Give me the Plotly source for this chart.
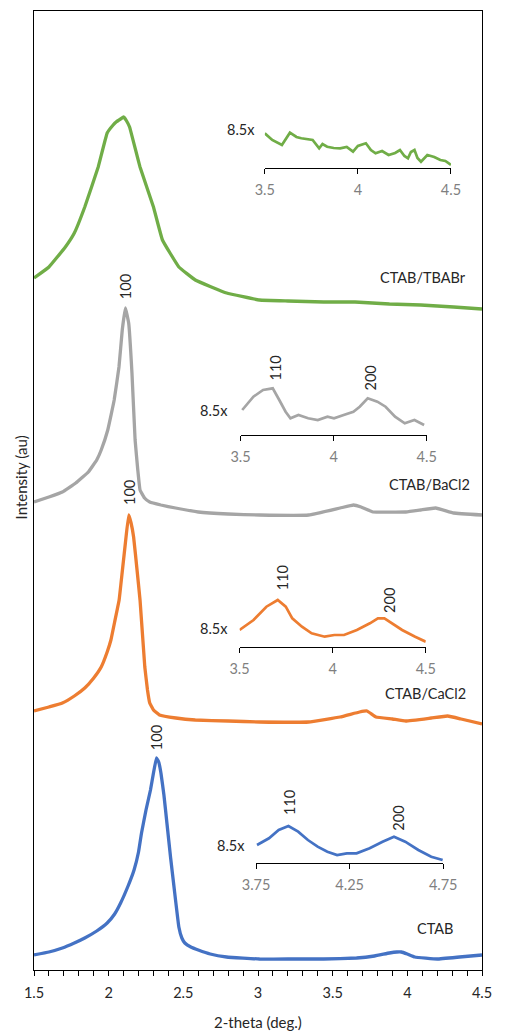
import plotly.graph_objects as go

# ---------------- main patterns (2-theta, stacked intensity in a.u.) -------------
ctab_x = [1.5, 1.6, 1.69, 1.77, 1.84, 1.92, 1.99, 2.04, 2.08, 2.13, 2.17, 2.20, 2.22, 2.25, 2.28,
          2.30, 2.32, 2.335, 2.35, 2.37, 2.39, 2.415, 2.44, 2.47, 2.49, 2.51, 2.55, 2.6, 2.68, 2.79,
          3.01, 3.2, 3.44, 3.66, 3.78, 3.88, 3.93, 3.96, 4.0, 4.05, 4.2, 4.35, 4.5]
ctab_y = [15, 18, 22, 27, 32, 39, 47, 56, 67, 84, 100, 118, 137, 160, 180,
          197, 212, 208, 197, 175, 147, 112, 80, 43, 32, 27, 23, 20, 16, 13,
          11, 11, 11, 12, 14, 17, 18, 18, 16, 13, 11, 13, 15]

cacl_x = [1.5, 1.6, 1.69, 1.77, 1.84, 1.9, 1.95, 1.99, 2.015, 2.04, 2.07, 2.09, 2.112, 2.134, 2.15,
          2.167, 2.19, 2.21, 2.242, 2.26, 2.275, 2.3, 2.34, 2.45, 2.58, 2.8, 3.01, 3.34, 3.55, 3.68,
          3.73, 3.79, 3.9, 3.99, 4.16, 4.27, 4.36, 4.5]
cacl_y = [259, 263, 267, 274, 282, 292, 303, 318, 330, 348, 370, 397, 427, 455, 447,
          433, 400, 370, 303, 280, 267, 260, 255, 252, 250, 249, 248, 248, 253, 258,
          259, 253, 251, 249, 252, 254, 251, 246]

bacl_x = [1.5, 1.6, 1.69, 1.78, 1.864, 1.92, 1.95, 1.994, 2.037, 2.069, 2.091, 2.112, 2.134, 2.156,
          2.177, 2.195, 2.21, 2.24, 2.275, 2.35, 2.448, 2.6, 2.8, 3.01, 3.34, 3.55, 3.64, 3.69, 3.77,
          3.99, 4.09, 4.19, 4.31, 4.5]
bacl_y = [468, 473, 478, 487, 498, 510, 520, 540, 570, 603, 640, 662, 647, 597,
          530, 500, 480, 472, 468, 465, 462, 458, 456, 455, 455, 462, 465, 463, 458,
          458, 460, 462, 457, 455]

tbab_x = [1.5, 1.6, 1.71, 1.77, 1.84, 1.93, 1.99, 2.03, 2.05, 2.08, 2.10, 2.12, 2.14, 2.21, 2.30,
          2.36, 2.47, 2.58, 2.79, 3.01, 3.2, 3.44, 3.65, 3.88, 4.09, 4.31, 4.5]
tbab_y = [692, 703, 723, 737, 763, 803, 837, 845, 848, 851, 853, 849, 843, 803, 763,
          730, 703, 690, 677, 670, 669, 668, 668, 666, 665, 663, 661]

# ---------------- insets (8.5x magnified, a.u. above inset baseline) ----------------
ins_tbab_x = [3.5, 3.54, 3.592, 3.635, 3.67, 3.696, 3.757, 3.792, 3.81, 3.835, 3.87, 3.905, 3.94,
              3.974, 4.0, 4.043, 4.07, 4.095, 4.13, 4.165, 4.2, 4.226, 4.25, 4.269, 4.285, 4.304,
              4.32, 4.339, 4.373, 4.41, 4.443, 4.47, 4.5]
ins_tbab_y = [34.7, 28, 23, 35.3, 31, 29.7, 28, 19.7, 24, 21.3, 20, 19.7, 21, 16.3, 22, 24.7,
              18, 14.7, 17, 13, 15, 18, 12, 9.7, 16, 18, 10, 6.3, 13, 11, 8, 7, 3]

ins_bacl_x = [3.509, 3.569, 3.621, 3.673, 3.708, 3.742, 3.768, 3.811, 3.863, 3.915, 3.967, 4.002,
              4.054, 4.106, 4.14, 4.183, 4.235, 4.279, 4.33, 4.382, 4.434, 4.486]
ins_bacl_y = [25, 38.3, 45, 46.7, 35, 23.3, 16.7, 20, 16.7, 15, 18.3, 16.7,
              20, 23.3, 28.3, 36.7, 33.3, 28.3, 18.3, 11.7, 15, 10]

ins_cacl_x = [3.5, 3.575, 3.644, 3.705, 3.748, 3.783, 3.835, 3.887, 3.957, 4.009, 4.061, 4.13,
              4.2, 4.243, 4.278, 4.321, 4.373, 4.443, 4.5]
ins_cacl_y = [17, 27, 40.3, 47, 40.3, 28.7, 20.3, 13.7, 10.3, 12, 12, 17,
              23.7, 28.7, 28.7, 23.7, 17, 10.3, 5.3]

ins_ctab_x = [3.755, 3.819, 3.871, 3.923, 3.975, 4.027, 4.079, 4.131, 4.183, 4.235, 4.287, 4.357,
              4.426, 4.487, 4.547, 4.617, 4.686, 4.747]
ins_ctab_y = [18, 24.7, 33, 37, 31.3, 23, 16.3, 11.3, 8, 9.7, 9.7, 14.7,
              21.3, 26.3, 21.3, 13, 6.3, 3]

names = ["CTAB/TBABr", "CTAB/BaCl2", "CTAB/CaCl2", "CTAB"]
colors = ["#70AD47", "#A5A5A5", "#ED7D31", "#4472C4"]
main_x = [tbab_x, bacl_x, cacl_x, ctab_x]
main_y = [tbab_y, bacl_y, cacl_y, ctab_y]
ins_x = [ins_tbab_x, ins_bacl_x, ins_cacl_x, ins_ctab_x]
ins_y = [ins_tbab_y, ins_bacl_y, ins_cacl_y, ins_ctab_y]
ins_ranges = [[3.5, 4.5], [3.5, 4.5], [3.5, 4.5], [3.75, 4.75]]
ins_ticks = [[3.5, 4, 4.5], [3.5, 4, 4.5], [3.5, 4, 4.5], [3.75, 4.25, 4.75]]
ins_ticktext = [["3.5", "4", "4.5"], ["3.5", "4", "4.5"], ["3.5", "4", "4.5"], ["3.75", "4.25", "4.75"]]

FONT = "Lato, Carlito, Calibri, sans-serif"
FS = 14.5

# layout geometry (pixels)
W, H = 506, 1032
L, R, T, B = 34, 496, 11, 970
PW, PH = R - L, B - T


def fx(px):
    return (px - L) / PW


def fy(py):
    return (B - py) / PH


fig = go.Figure()

for i in range(4):
    fig.add_trace(go.Scatter(x=main_x[i], y=main_y[i], mode="lines",
                             line=dict(color=colors[i], width=3.3, shape="spline", smoothing=0.25),
                             name=names[i], showlegend=False, xaxis="x", yaxis="y"))

# inset geometry: (x px start, x px end, baseline px)
inset_geo = [(272, 464, 168), (247, 439, 435), (246, 438, 647), (263, 456, 863)]
INS_H = 55
layout_axes = {}
for i in range(4):
    k = i + 2
    x0, x1, base = inset_geo[i]
    fig.add_trace(go.Scatter(x=ins_x[i], y=ins_y[i], mode="lines",
                             line=dict(color=colors[i], width=2.7),
                             showlegend=False, xaxis=f"x{k}", yaxis=f"y{k}"))
    layout_axes[f"xaxis{k}"] = dict(domain=[fx(x0), fx(x1)], anchor=f"y{k}",
                                    range=ins_ranges[i], showline=True, linecolor="#000000",
                                    linewidth=1, ticks="outside", ticklen=5, tickcolor="#000000",
                                    tickvals=ins_ticks[i], ticktext=ins_ticktext[i],
                                    ticklabelstandoff=4,
                                    tickfont=dict(family=FONT, size=FS, color="#7f7f7f"),
                                    showgrid=False, zeroline=False, fixedrange=True)
    layout_axes[f"yaxis{k}"] = dict(domain=[fy(base), fy(base - INS_H)], anchor=f"x{k}",
                                    range=[0, INS_H], visible=False, fixedrange=True)

fig.update_layout(
    width=W, height=H,
    margin=dict(l=L, r=W - R, t=T, b=H - B),
    paper_bgcolor="white", plot_bgcolor="white",
    xaxis=dict(domain=[0, 1], range=[1.5, 4.5], showline=True, mirror=True,
               linecolor="#000000", linewidth=1.3, ticks="outside", ticklen=5,
               tickcolor="#000000", dtick=0.5, tick0=1.5, ticklabelstandoff=4,
               tickfont=dict(family=FONT, size=FS, color="#262626"),
               minor=dict(dtick=0.1, ticks="outside", ticklen=5, tickcolor="#000000"),
               showgrid=False, zeroline=False),
    yaxis=dict(domain=[0, 1], range=[0, PH], showline=True, mirror=True,
               linecolor="#000000", linewidth=1.3, ticks="", showticklabels=False,
               showgrid=False, zeroline=False),
    **layout_axes,
)

ann = []
tf = dict(family=FONT, size=FS, color="#262626")
# axis titles
ann.append(dict(text="2-theta (deg.)", xref="paper", yref="paper", x=0.5, y=fy(1022),
                showarrow=False, font=dict(family=FONT, size=FS + 0.5, color="#262626"),
                xanchor="center", yanchor="middle"))
ann.append(dict(text="Intensity (au)", xref="paper", yref="paper", x=fx(21), y=fy(477),
                showarrow=False, textangle=-90, font=dict(family=FONT, size=FS + 0.5, color="#262626"),
                xanchor="center", yanchor="middle"))
# series labels
lab_pos = [(435, 277), (442, 485), (438, 693), (448, 928)]
for i in range(4):
    px, py = lab_pos[i]
    ann.append(dict(text=names[i], xref="paper", yref="paper", x=fx(px), y=fy(py),
                    showarrow=False, font=tf, xanchor="center", yanchor="middle"))
# (100) labels over main peaks
for px, py in [(128, 287), (132, 493), (160, 738)]:
    ann.append(dict(text="100", xref="paper", yref="paper", x=fx(px), y=fy(py),
                    showarrow=False, textangle=-90, font=tf, xanchor="center", yanchor="middle"))
# inset labels
mag_pos = [(247, 130), (220, 410), (220, 628), (237, 846)]
for px, py in mag_pos:
    ann.append(dict(text="8.5x", xref="paper", yref="paper", x=fx(px), y=fy(py),
                    showarrow=False, font=tf, xanchor="center", yanchor="middle"))
for px, py, t in [(283, 368, "110"), (381, 378, "200"), (290, 578, "110"), (400, 600, "200"),
                  (297, 803, "110"), (409, 818, "200")]:
    ann.append(dict(text=t, xref="paper", yref="paper", x=fx(px), y=fy(py),
                    showarrow=False, textangle=-90, font=tf, xanchor="center", yanchor="middle"))

fig.update_layout(annotations=ann)
fig.write_html("out.html")
